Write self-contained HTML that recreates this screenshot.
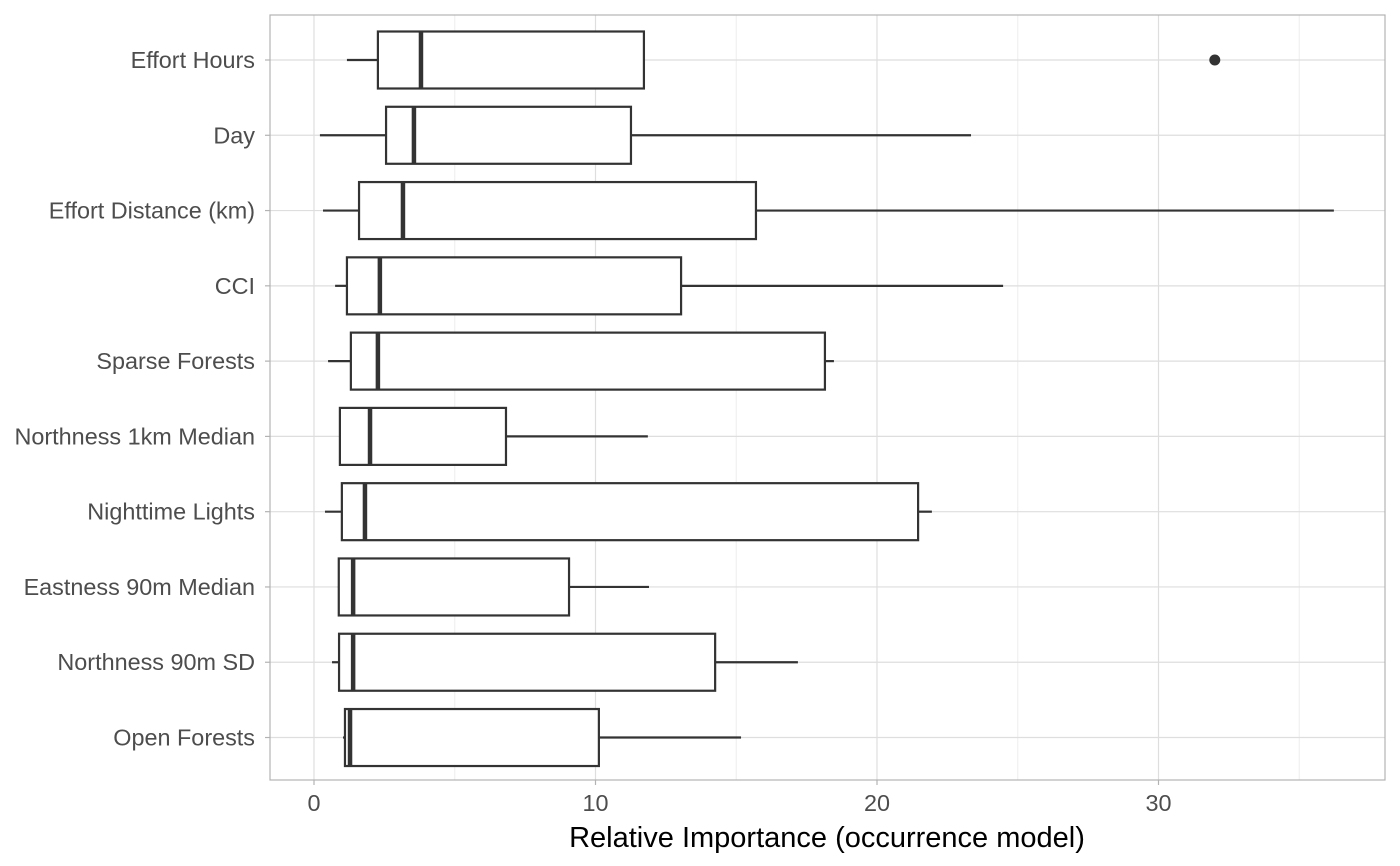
<!DOCTYPE html>
<html><head><meta charset="utf-8"><style>
html,body{margin:0;padding:0;background:#fff;}
svg{display:block;font-family:"Liberation Sans",sans-serif;}
</style></head><body>
<svg id="chart" width="1400" height="866"></svg>
<script>
const categories=["Effort Hours","Day","Effort Distance (km)","CCI","Sparse Forests","Northness 1km Median","Nighttime Lights","Eastness 90m Median","Northness 90m SD","Open Forests"];
const whiskerLow=[1.17,0.21,0.32,0.75,0.5,0.89,0.39,0.85,0.64,1.03];
const q1=[2.27,2.56,1.6,1.17,1.31,0.92,0.99,0.88,0.89,1.1];
const median=[3.8,3.55,3.16,2.34,2.27,1.99,1.81,1.39,1.39,1.28];
const q3=[11.72,11.26,15.7,13.04,18.15,6.82,21.46,9.06,14.25,10.12];
const whiskerHigh=[11.72,23.34,36.23,24.48,18.47,11.86,21.95,11.9,17.19,15.17];
const outlierCat=[0];
const outlierVal=[32.0];
const xTicks=[0,10,20,30];
const xMinor=[5,15,25,35];

const NS="http://www.w3.org/2000/svg";
const svg=document.getElementById("chart");
const L=270,R=1385,T=15,B=780;
const x=v=>314+v*28.15;
const y=i=>60+i*75.28;
function mk(tag,attrs,parent){const e=document.createElementNS(NS,tag);for(const k in attrs)e.setAttribute(k,attrs[k]);(parent||svg).appendChild(e);return e;}
const panel=mk("rect",{x:L,y:T,width:R-L,height:B-T,fill:"#fff"});


xMinor.forEach(v=>{const l=mk("line",{x1:x(v),x2:x(v),y1:T,y2:B,stroke:"#ededed","stroke-width":1});

});
xTicks.forEach(v=>{const l=mk("line",{x1:x(v),x2:x(v),y1:T,y2:B,stroke:"#dedede","stroke-width":1.2});

});
categories.forEach((c,i)=>{const l=mk("line",{x1:L,x2:R,y1:y(i),y2:y(i),stroke:"#dedede","stroke-width":1.2});

});
const hh=28.5;
categories.forEach((c,i)=>{
 const g=mk("g",{});
 
 
 const yc=y(i);
 mk("line",{x1:x(whiskerLow[i]),x2:x(q1[i]),y1:yc,y2:yc,stroke:"#333","stroke-width":2.2},g);
 mk("line",{x1:x(q3[i]),x2:x(whiskerHigh[i]),y1:yc,y2:yc,stroke:"#333","stroke-width":2.2},g);
 mk("rect",{x:x(q1[i]),y:yc-hh,width:x(q3[i])-x(q1[i]),height:2*hh,fill:"#fff",stroke:"#333","stroke-width":2.2},g);
 mk("line",{x1:x(median[i]),x2:x(median[i]),y1:yc-hh,y2:yc+hh,stroke:"#333","stroke-width":4.5},g);
 const t=mk("text",{x:255,y:yc+8,"text-anchor":"end","font-size":23.4,fill:"#4d4d4d"});
 t.textContent=c;
 
 
});
outlierVal.forEach((v,k)=>{const p=mk("circle",{cx:x(v),cy:y(outlierCat[k]),r:5.5,fill:"#333"});

});
const border=mk("rect",{x:L,y:T,width:R-L,height:B-T,fill:"none",stroke:"#b3b3b3","stroke-width":1.2});


categories.forEach((c,i)=>{mk("line",{x1:L-5,x2:L,y1:y(i),y2:y(i),stroke:"#b3b3b3","stroke-width":1.2});});
xTicks.forEach(v=>{mk("line",{x1:x(v),x2:x(v),y1:B,y2:B+5,stroke:"#b3b3b3","stroke-width":1.2});
 const t=mk("text",{x:x(v),y:811,"text-anchor":"middle","font-size":23.4,fill:"#4d4d4d"});
 t.textContent=v;
 
 });
const xt=mk("text",{x:827,y:847,"text-anchor":"middle","font-size":29,fill:"#000"});
xt.textContent="Relative Importance (occurrence model)";


</script>
</body></html>
